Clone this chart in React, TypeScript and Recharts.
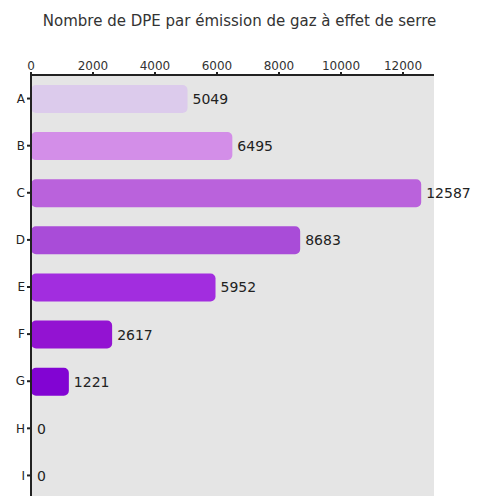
import { Bar, BarChart, CartesianGrid, Cell, LabelList, XAxis, YAxis } from "recharts"

const classes = ["A", "B", "C", "D", "E", "F", "G", "H", "I"]
const counts = [5049, 6495, 12587, 8683, 5952, 2617, 1221, 0, 0]
const colors = ["#dccbec", "#d38ee8", "#ba62dc", "#a94cd8", "#a22ddf", "#9313d2", "#8204d3", "#7a00cc", "#7000c0"]
const xTicks = [0, 2000, 4000, 6000, 8000, 10000, 12000]

const title = "Nombre de DPE par émission de gaz à effet de serre"

const data = classes.map((name, i) => ({ name, value: counts[i] }))

export default function App() {
  return (
    <div style={{ position: "absolute", left: 0, top: 0, width: 479, height: 496, overflow: "hidden", background: "#fff" }}>
      <div
        style={{
          position: "absolute",
          top: 12,
          width: 479,
          textAlign: "center",
          fontFamily: "DejaVu Sans",
          fontSize: 15,
          color: "#333",
        }}
      >
        {title}
      </div>
      <BarChart
        width={479}
        height={500}
        data={data}
        layout="vertical"
        margin={{ top: 45, right: 45, bottom: 1, left: 0 }}
        barCategoryGap={10}
      >
        <CartesianGrid fill="#e5e5e5" horizontal={false} vertical={false} />
        <XAxis
          type="number"
          orientation="top"
          height={30}
          domain={[0, 13000]}
          ticks={xTicks}
          tick={{ fill: "#333", fontSize: 12, fontFamily: "DejaVu Sans" }}
          tickSize={3}
          stroke="#222"
          strokeWidth={2}
          allowDataOverflow
        />
        <YAxis
          type="category"
          dataKey="name"
          width={31}
          tick={{ fill: "#222", fontSize: 12, fontFamily: "DejaVu Sans" }}
          tickSize={4}
          stroke="#222"
          strokeWidth={2}
        />
        <Bar dataKey="value" barSize={28} radius={5} minPointSize={1} isAnimationActive={false}>
          {data.map((d, i) => (
            <Cell key={d.name} fill={colors[i]} />
          ))}
          <LabelList
            dataKey="value"
            position="right"
            offset={5}
            style={{ fill: "#222", fontSize: 14, fontFamily: "DejaVu Sans" }}
          />
        </Bar>
      </BarChart>
    </div>
  )
}
